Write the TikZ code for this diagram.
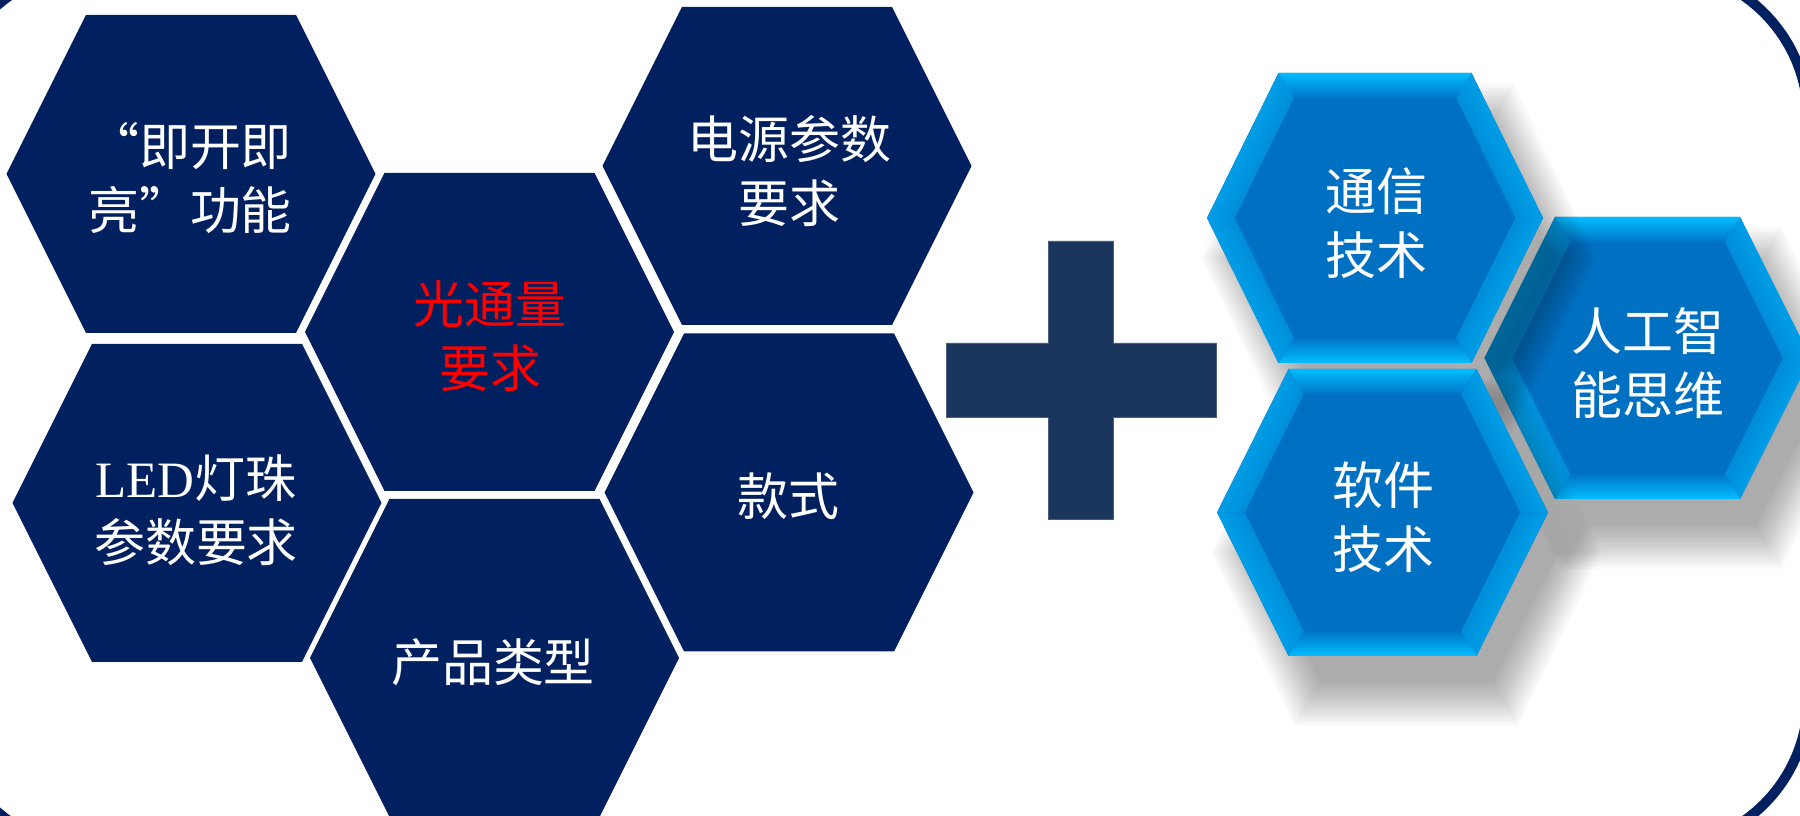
\documentclass[tikz,border=0pt]{standalone}
\usepackage{fontspec}
\newfontfamily\cjk{Noto Sans CJK SC}
\newfontfamily\lserif{Liberation Serif}
\definecolor{navy}{HTML}{002060}
\definecolor{plusc}{HTML}{1B365D}
\definecolor{bmain}{HTML}{0071C2}
\definecolor{bedge}{HTML}{00BEFF}
\definecolor{bmid}{HTML}{0782D8}
\definecolor{binner}{HTML}{0074C6}
\newcommand\hexpath[5]{({#1-(#3)},{#2}) -- ({#1-(#4)},{#2+(#5)}) -- ({#1+(#4)},{#2+(#5)}) -- ({#1+(#3)},{#2}) -- ({#1+(#4)},{#2-(#5)}) -- ({#1-(#4)},{#2-(#5)}) -- cycle}
\newcommand\darkhex[2]{\fill[navy] \hexpath{#1}{#2}{184.5}{105}{159};}
\newcommand\bevelface[9]{% x1 y1 x2 y2 x3 y3 x4 y4 angle
  \shade[top color=bedge,middle color=bmid,bottom color=binner,shading angle=#9] (#1,#2) -- (#3,#4) -- (#5,#6) -- (#7,#8) -- cycle;}
\newcommand\bluehex[5]{%
  \pgfmathsetmacro\bL{veclen(#5,#3-#4)}%
  \pgfmathsetmacro\bW{#3-25*\bL/#5}%
  \pgfmathsetmacro\bT{#4-25*\bL/#5+(#3-#4)*25/#5}%
  \pgfmathsetmacro\bH{#5-25}%
  \pgfmathsetmacro\bphi{atan((#3-#4)/#5)}%
  \pgfmathsetmacro\aUR{\bphi-90}%
  \pgfmathsetmacro\aLR{-\bphi-90}%
  \pgfmathsetmacro\aLL{90+\bphi}%
  \pgfmathsetmacro\aUL{90-\bphi}%
  \foreach \k in {0,...,17}{\pgfmathsetmacro\dd{30-2.6*\k}\fill[black,opacity=0.02] \hexpath{#1+24}{#2-40}{#3+\dd}{#4+0.6*\dd}{#5+\dd};}%
  \fill[binner] \hexpath{#1}{#2}{#3}{#4}{#5};
  \pgfmathsetmacro\oxa{#1-#3}\pgfmathsetmacro\oxb{#1-#4}\pgfmathsetmacro\oxc{#1+#4}\pgfmathsetmacro\oxd{#1+#3}%
  \pgfmathsetmacro\oyt{#2+#5}\pgfmathsetmacro\oyb{#2-#5}%
  \pgfmathsetmacro\ixa{#1-\bW}\pgfmathsetmacro\ixb{#1-\bT}\pgfmathsetmacro\ixc{#1+\bT}\pgfmathsetmacro\ixd{#1+\bW}%
  \pgfmathsetmacro\iyt{#2+\bH}\pgfmathsetmacro\iyb{#2-\bH}%
  \bevelface{\oxb}{\oyt}{\oxc}{\oyt}{\ixc}{\iyt}{\ixb}{\iyt}{0}
  \bevelface{\oxc}{\oyt}{\oxd}{#2}{\ixd}{#2}{\ixc}{\iyt}{\aUR}
  \bevelface{\oxd}{#2}{\oxc}{\oyb}{\ixc}{\iyb}{\ixd}{#2}{\aLR}
  \bevelface{\oxc}{\oyb}{\oxb}{\oyb}{\ixb}{\iyb}{\ixc}{\iyb}{180}
  \bevelface{\oxb}{\oyb}{\oxa}{#2}{\ixa}{#2}{\ixb}{\iyb}{\aLL}
  \bevelface{\oxa}{#2}{\oxb}{\oyt}{\ixb}{\iyt}{\ixa}{#2}{\aUL}
  \fill[bmain] \hexpath{#1}{#2}{\bW}{\bT}{\bH};
}
\tikzset{lbl/.style={text=white, align=center, inner sep=0pt,
  font={\cjk\fontsize{14.5pt}{18.2pt}\selectfont}}}
\begin{document}
\begin{tikzpicture}[x=0.01cm,y=0.01cm]
\useasboundingbox (0,0) rectangle (1800,816);
\begin{scope}
\clip (0,0) rectangle (1800,816);
\fill[white] (0,0) rectangle (1800,816);
% frame
\draw[navy, line width=0.1cm, rounded corners=1.5cm] (-55,847) rectangle (1808,-32);
% dark hexagons
\darkhex{191}{642}
\darkhex{489.5}{484}
\darkhex{787}{650}
\darkhex{197}{313}
\darkhex{789}{323.5}
\darkhex{494.5}{158}
\node[lbl] (t1) at (190,638) {“即开即\\亮”功能};
\node[lbl,text=red] (t2) at (490,480) {光通量\\要求};
\node[lbl] (t3) at (789,645) {电源参数\\要求};
\node[lbl] (t4) at (196,306) {{\lserif LED}灯珠\\参数要求};
\node[lbl] (t5) at (788,320) {款式};
\node[lbl] (t6) at (493,154) {产品类型};
% plus
\fill[plusc, draw=plusc!80!white, line width=0.2pt]
  (1048,575) -- (1113,575) -- (1113,473) -- (1216,473) -- (1216,399) -- (1113,399)
  -- (1113,297) -- (1048,297) -- (1048,399) -- (946,399) -- (946,473) -- (1048,473) -- cycle;
% blue hexagons
\bluehex{1647.5}{458}{163}{92.5}{141}
\node[lbl] (t9) at (1648,453) {人工智\\能思维};
\bluehex{1375}{598}{168}{96.5}{145}
\node[lbl] (t7) at (1376,593) {通信\\技术};
\bluehex{1382.5}{303.5}{165.5}{94}{143.5}
\node[lbl] (t8) at (1383,299) {软件\\技术};
\end{scope}
\end{tikzpicture}
\end{document}
